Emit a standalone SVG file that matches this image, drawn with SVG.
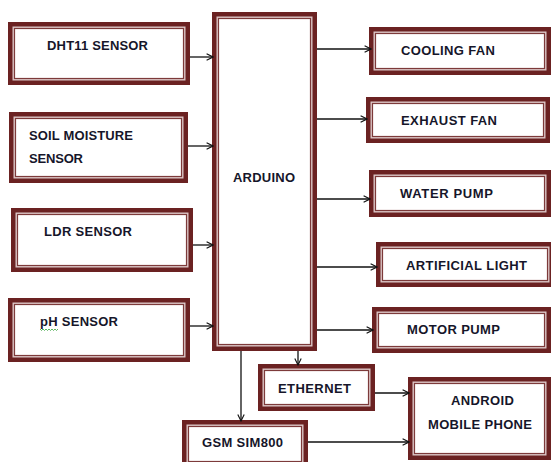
<svg xmlns="http://www.w3.org/2000/svg" width="551" height="462" viewBox="0 0 551 462">
<style>
.o{fill:#6b2222}
.g{fill:#dcc6c6}
.i{fill:#fff;stroke:#7d3a3a;stroke-width:1.2}
.t{font-family:"Liberation Sans",Arial,Helvetica,sans-serif;font-weight:bold;font-size:13px;fill:#16162a}
.c{stroke:#111;stroke-width:1.3;fill:none}
</style>
<defs>
<marker id="ah" viewBox="0 0 10 10" refX="9" refY="5" markerWidth="8" markerHeight="8" markerUnits="userSpaceOnUse" orient="auto">
<path d="M1,1 L9,5 L1,9" fill="none" stroke="#111" stroke-width="1.4"/>
</marker>
</defs>
<rect width="551" height="462" fill="#fff"/>

<g id="dht11">
<rect class="o" x="8" y="22" width="182" height="63"/>
<rect class="g" x="12.5" y="26.5" width="173" height="54"/>
<rect class="i" x="14.5" y="28.5" width="169" height="50"/>
<text class="t" x="47" y="50" textLength="101" lengthAdjust="spacing">DHT11 SENSOR</text>
</g>

<g id="soil">
<rect class="o" x="9" y="112" width="179" height="71"/>
<rect class="g" x="13.5" y="116.5" width="170" height="62"/>
<rect class="i" x="15.5" y="118.5" width="166" height="58"/>
<text class="t" x="29" y="140" textLength="104" lengthAdjust="spacing">SOIL MOISTURE</text>
<text class="t" x="29" y="163" textLength="54" lengthAdjust="spacing">SENSOR</text>
</g>

<g id="ldr">
<rect class="o" x="11" y="208" width="182" height="64"/>
<rect class="g" x="15.5" y="212.5" width="173" height="55"/>
<rect class="i" x="17.5" y="214.5" width="169" height="51"/>
<text class="t" x="44" y="236" textLength="88" lengthAdjust="spacing">LDR SENSOR</text>
</g>

<g id="ph">
<rect class="o" x="8" y="298" width="182" height="64"/>
<rect class="g" x="12.5" y="302.5" width="173" height="55"/>
<rect class="i" x="14.5" y="304.5" width="169" height="51"/>
<text class="t" x="40" y="326" textLength="78" lengthAdjust="spacing">pH SENSOR</text>
<path d="M40,329 l1.5,1.5 l1.5,-1.5 l1.5,1.5 l1.5,-1.5 l1.5,1.5 l1.5,-1.5 l1.5,1.5 l1.5,-1.5 l1.5,1.5 l1.5,-1.5 l1.5,1.5 l1.5,-1.5" fill="none" stroke="#4caf50" stroke-width="0.9"/>
</g>

<g id="arduino">
<rect class="o" x="212" y="12" width="105" height="339"/>
<rect class="g" x="216.5" y="16.5" width="96" height="330"/>
<rect class="i" x="218.5" y="18.5" width="92" height="326"/>
<text class="t" x="233" y="182" textLength="62" lengthAdjust="spacing">ARDUINO</text>
</g>

<g id="cooling">
<rect class="o" x="369" y="27" width="182" height="48"/>
<rect class="g" x="373.5" y="31.5" width="173" height="39"/>
<rect class="i" x="375.5" y="33.5" width="169" height="35"/>
<text class="t" x="401" y="55" textLength="94" lengthAdjust="spacing">COOLING FAN</text>
</g>

<g id="exhaust">
<rect class="o" x="366" y="97" width="184" height="46"/>
<rect class="g" x="370.5" y="101.5" width="175" height="37"/>
<rect class="i" x="372.5" y="103.5" width="171" height="33"/>
<text class="t" x="401" y="125" textLength="96" lengthAdjust="spacing">EXHAUST FAN</text>
</g>

<g id="water">
<rect class="o" x="369" y="170" width="182" height="47"/>
<rect class="g" x="373.5" y="174.5" width="173" height="38"/>
<rect class="i" x="375.5" y="176.5" width="169" height="34"/>
<text class="t" x="400" y="198" textLength="93" lengthAdjust="spacing">WATER PUMP</text>
</g>

<g id="light">
<rect class="o" x="376" y="242" width="178" height="45"/>
<rect class="g" x="380.5" y="246.5" width="169" height="36"/>
<rect class="i" x="382.5" y="248.5" width="165" height="32"/>
<text class="t" x="406" y="270" textLength="121" lengthAdjust="spacing">ARTIFICIAL LIGHT</text>
</g>

<g id="motor">
<rect class="o" x="372" y="307" width="179" height="46"/>
<rect class="g" x="376.5" y="311.5" width="170" height="37"/>
<rect class="i" x="378.5" y="313.5" width="166" height="33"/>
<text class="t" x="407" y="334" textLength="93" lengthAdjust="spacing">MOTOR PUMP</text>
</g>

<g id="ethernet">
<rect class="o" x="258" y="364" width="117" height="47"/>
<rect class="g" x="262.5" y="368.5" width="108" height="38"/>
<rect class="i" x="264.5" y="370.5" width="104" height="34"/>
<text class="t" x="278" y="393" textLength="73" lengthAdjust="spacing">ETHERNET</text>
</g>

<g id="gsm">
<rect class="o" x="182" y="420" width="126" height="48"/>
<rect class="g" x="186.5" y="424.5" width="117" height="39"/>
<rect class="i" x="188.5" y="426.5" width="113" height="35"/>
<text class="t" x="202" y="447" textLength="81" lengthAdjust="spacing">GSM SIM800</text>
</g>

<g id="android">
<rect class="o" x="408" y="377" width="143" height="83"/>
<rect class="g" x="412.5" y="381.5" width="134" height="74"/>
<rect class="i" x="414.5" y="383.5" width="130" height="70"/>
<text class="t" x="451" y="405" textLength="63" lengthAdjust="spacing">ANDROID</text>
<text class="t" x="428" y="429" textLength="104" lengthAdjust="spacing">MOBILE PHONE</text>
</g>

<g id="connectors">
<line class="c" x1="190" y1="57" x2="213" y2="57" marker-end="url(#ah)"/>
<line class="c" x1="188" y1="146" x2="213" y2="146" marker-end="url(#ah)"/>
<line class="c" x1="193" y1="245" x2="213" y2="245" marker-end="url(#ah)"/>
<line class="c" x1="190" y1="326" x2="213" y2="326" marker-end="url(#ah)"/>
<line class="c" x1="317" y1="49" x2="371" y2="49" marker-end="url(#ah)"/>
<line class="c" x1="317" y1="119" x2="367" y2="119" marker-end="url(#ah)"/>
<line class="c" x1="317" y1="199" x2="370" y2="199" marker-end="url(#ah)"/>
<line class="c" x1="317" y1="267" x2="377" y2="267" marker-end="url(#ah)"/>
<line class="c" x1="317" y1="330" x2="373" y2="330" marker-end="url(#ah)"/>
<line class="c" x1="298" y1="351" x2="298" y2="365" marker-end="url(#ah)"/>
<line class="c" x1="241" y1="351" x2="241" y2="421" marker-end="url(#ah)"/>
<line class="c" x1="375" y1="393" x2="409" y2="393" marker-end="url(#ah)"/>
<line class="c" x1="308" y1="442" x2="409" y2="442" marker-end="url(#ah)"/>
</g>
</svg>
